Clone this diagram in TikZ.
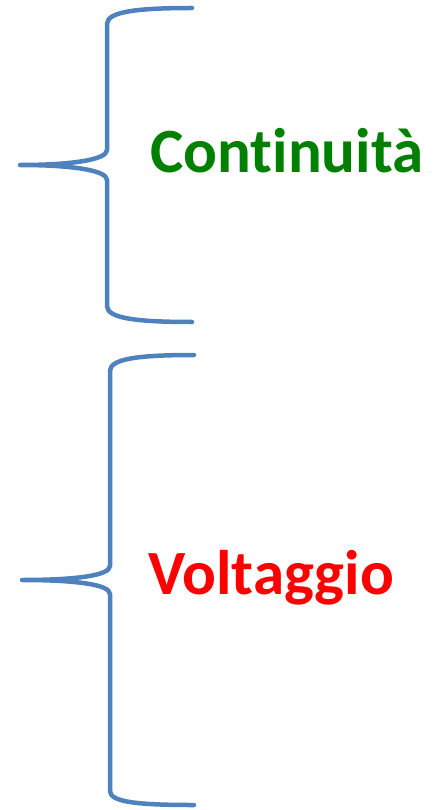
\documentclass[tikz,border=0pt]{standalone}
\usepackage{fontspec}
\setmainfont[Ligatures=NoCommon]{Carlito}
\definecolor{braceblue}{HTML}{4F81BD}
\definecolor{tgreen}{HTML}{008000}
\definecolor{tred}{HTML}{FF0000}
\begin{document}
\begin{tikzpicture}[x=1pt,y=-1pt,
  bracestyle/.style={draw=braceblue,line width=4.5pt,line cap=round,line join=round},
  lbl/.style={anchor=base west,inner sep=0pt,font=\fontsize{63}{63}\selectfont\bfseries}]
\useasboundingbox (0,0) rectangle (446,810);
% brace 1
\draw[bracestyle] (192,8) .. controls (135,8) and (107,12) .. (107,24)
  -- (107,150) .. controls (107,160) and (70,165) .. (20,165)
  .. controls (70,165) and (107,170) .. (107,180)
  -- (107,306) .. controls (107,318) and (135,322) .. (192,322);
% brace 2
\draw[bracestyle] (194,355) .. controls (137,355) and (110,359) .. (110,371)
  -- (110,566) .. controls (110,576) and (72,580) .. (22,580)
  .. controls (72,580) and (110,584) .. (110,594)
  -- (110,791) .. controls (110,802) and (137,805) .. (194,805);
\node[lbl,text=tgreen] (cont) at (150,173) {Cont{}inuità};
\node[lbl,text=tred] (volt) at (148,594) {Voltaggio};
\end{tikzpicture}
\end{document}
